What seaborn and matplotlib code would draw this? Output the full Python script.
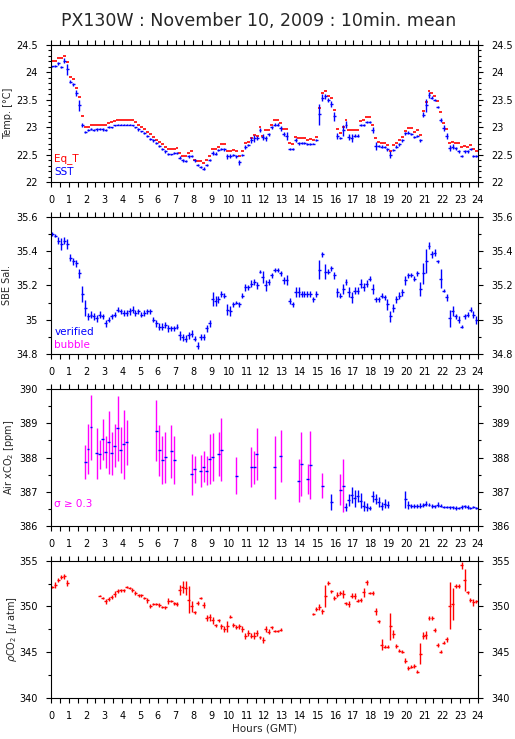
import numpy as np
import matplotlib
matplotlib.use("Agg")
import matplotlib.pyplot as plt
from matplotlib.ticker import MultipleLocator, FuncFormatter
import seaborn as sns

sns.set_theme(style="ticks")
plt.rcParams['font.family'] = ['DejaVu Sans']
plt.rcParams['mathtext.fontset'] = 'dejavusans'

# 10-minute means: slot centres in minutes after 00:00 GMT
slot_minutes = np.arange(5, 1440, 10)
hours = slot_minutes / 60

# Temperature panel (one row = one hour)
sst = [
    24.11, 24.11, 24.16, 24.10, 24.21, 24.05,
    23.83, 23.78, 23.62, 23.40, 23.04, 22.92,
    22.95, 22.97, 22.95, 22.96, 22.97, 22.96,
    22.95, 23.00, 23.00, 23.04, 23.05, 23.05,
    23.05, 23.05, 23.05, 23.04, 23.00, 22.96,
    22.93, 22.89, 22.84, 22.79, 22.76, 22.72,
    22.66, 22.61, 22.56, 22.51, 22.51, 22.53,
    22.53, 22.45, 22.40, 22.38, 22.47, 22.48,
    22.40, 22.31, 22.28, 22.25, 22.31, 22.40,
    22.53, 22.52, 22.59, 22.60, 22.60, 22.47,
    22.48, 22.50, 22.47, 22.36, 22.50, 22.64,
    22.68, 22.77, 22.80, 22.80, 22.95, 22.82,
    22.80, 22.87, 23.00, 23.05, 23.05, 22.98,
    22.88, 22.84, 22.60, 22.60, 22.77, 22.71,
    22.71, 22.71, 22.69, 22.70, 22.70, 22.77,
    23.24, 23.54, 23.56, 23.50, 23.42, 23.20,
    22.84, 22.80, 22.95, 23.05, 22.82, 22.80,
    22.85, 22.85, 23.04, 23.04, 23.10, 23.09,
    22.95, 22.66, 22.66, 22.65, 22.64, 22.60,
    22.50, 22.59, 22.65, 22.69, 22.76, 22.89,
    22.90, 22.88, 22.83, 22.84, 22.76, 23.23,
    23.40, 23.59, 23.54, 23.50, 23.37, 23.13,
    22.99, 22.84, 22.62, 22.65, 22.62, 22.56,
    22.48, 22.56, 22.56, 22.60, 22.48, 22.48,
]
sst_sd = [
    .01, .02, .02, .02, .04, .10,
    .02, .03, .05, .10, .04, .02,
    .02, .02, .02, .02, .02, .02,
    .02, .02, .01, .01, .01, .01,
    .01, .01, .01, .01, .01, .02,
    .01, .02, .02, .02, .02, .02,
    .02, .02, .02, .02, .01, .02,
    .02, .03, .03, .02, .02, .02,
    .03, .02, .02, .02, .02, .02,
    .03, .03, .02, .02, .03, .04,
    .03, .02, .02, .04, .02, .04,
    .02, .05, .06, .04, .04, .06,
    .05, .03, .03, .02, .02, .04,
    .04, .08, .02, .02, .04, .03,
    .02, .02, .02, .02, .01, .02,
    .19, .06, .04, .04, .05, .08,
    .06, .02, .10, .06, .06, .07,
    .03, .02, .02, .02, .02, .02,
    .05, .07, .02, .02, .02, .03,
    .06, .02, .02, .03, .02, .03,
    .03, .02, .02, .02, .02, .05,
    .12, .05, .03, .02, .02, .04,
    .06, .05, .06, .05, .03, .02,
    .02, .02, .02, .02, .02, .02,
]
eq_t = [
    24.20, 24.20, 24.25, 24.25, 24.29, 24.18,
    23.92, 23.88, 23.72, 23.55, 23.20, 23.01,
    23.01, 23.05, 23.04, 23.04, 23.05, 23.05,
    23.04, 23.07, 23.10, 23.12, 23.14, 23.14,
    23.14, 23.14, 23.14, 23.13, 23.10, 23.05,
    23.01, 22.97, 22.92, 22.87, 22.83, 22.77,
    22.73, 22.69, 22.65, 22.60, 22.60, 22.61,
    22.62, 22.53, 22.48, 22.47, 22.53, 22.56,
    22.40, 22.39, 22.38, 22.35, 22.40, 22.47,
    22.60, 22.60, 22.65, 22.69, 22.69, 22.56,
    22.56, 22.59, 22.56, 22.47, 22.56, 22.71,
    22.74, 22.80, 22.86, 22.84, 23.00, 22.84,
    22.95, 22.95, 23.05, 23.13, 23.13, 23.07,
    22.97, 22.97, 22.71, 22.70, 22.83, 22.81,
    22.80, 22.80, 22.77, 22.78, 22.77, 22.83,
    23.35, 23.62, 23.65, 23.57, 23.53, 23.31,
    22.96, 22.90, 23.00, 23.14, 22.95, 22.95,
    22.95, 22.95, 23.11, 23.13, 23.18, 23.18,
    23.05, 22.80, 22.74, 22.72, 22.72, 22.68,
    22.57, 22.68, 22.71, 22.76, 22.82, 22.93,
    22.98, 22.98, 22.92, 22.95, 22.86, 23.30,
    23.46, 23.66, 23.62, 23.57, 23.48, 23.27,
    23.08, 22.96, 22.71, 22.74, 22.71, 22.71,
    22.65, 22.66, 22.64, 22.68, 22.60, 22.57,
]

# Salinity panel
sal = [
    35.50, 35.49, 35.46, 35.44, 35.46, 35.44,
    35.36, 35.34, 35.33, 35.27, 35.15, 35.07,
    35.02, 35.03, 35.02, 35.01, 35.03, 35.02,
    34.98, 35.00, 35.02, 35.03, 35.06, 35.05,
    35.04, 35.04, 35.05, 35.06, 35.04, 35.05,
    35.03, 35.04, 35.05, 35.05, 35.00, 34.98,
    34.96, 34.96, 34.97, 34.95, 34.95, 34.95,
    34.96, 34.91, 34.90, 34.89, 34.91, 34.92,
    34.89, 34.85, 34.90, 34.90, 34.95, 34.98,
    35.12, 35.11, 35.12, 35.15, 35.14, 35.06,
    35.05, 35.09, 35.10, 35.09, 35.14, 35.19,
    35.19, 35.21, 35.22, 35.20, 35.28, 35.25,
    35.20, 35.22, 35.26, 35.29, 35.29, 35.27,
    35.23, 35.23, 35.11, 35.09, 35.16, 35.16,
    35.15, 35.15, 35.15, 35.15, 35.12, 35.15,
    35.29, 35.38, 35.28, 35.28, 35.30, 35.26,
    35.16, 35.14, 35.18, 35.22, 35.16, 35.13,
    35.17, 35.17, 35.21, 35.19, 35.21, 35.24,
    35.18, 35.12, 35.12, 35.14, 35.13, 35.09,
    35.02, 35.07, 35.12, 35.14, 35.16, 35.23,
    35.26, 35.26, 35.24, 35.27, 35.18, 35.27,
    35.34, 35.43, 35.38, 35.39, 35.34, 35.24,
    35.17, 35.13, 35.01, 35.05, 35.02, 35.00,
    34.96, 35.02, 35.03, 35.06, 35.03, 35.00,
]
sal_sd = [
    .010, .010, .020, .034, .020, .030,
    .020, .020, .020, .025, .045, .045,
    .020, .020, .020, .020, .020, .015,
    .020, .015, .015, .015, .015, .015,
    .015, .015, .020, .020, .015, .015,
    .015, .015, .015, .015, .015, .020,
    .020, .020, .020, .020, .015, .015,
    .015, .025, .020, .020, .020, .020,
    .015, .020, .015, .015, .020, .020,
    .040, .030, .020, .015, .015, .030,
    .030, .015, .010, .015, .015, .020,
    .015, .020, .020, .020, .010, .035,
    .030, .020, .015, .010, .010, .015,
    .020, .030, .015, .015, .030, .030,
    .015, .015, .015, .015, .015, .015,
    .055, .015, .045, .015, .015, .020,
    .025, .015, .030, .015, .030, .030,
    .020, .020, .025, .025, .020, .015,
    .030, .015, .015, .015, .015, .030,
    .030, .025, .020, .020, .020, .025,
    .015, .010, .015, .015, .040, .060,
    .070, .020, .020, .020, .010, .055,
    .010, .020, .050, .030, .015, .020,
    .010, .015, .015, .015, .020, .025,
]

# Air xCO2 panel
air_hours = [
    1.92, 2.08, 2.25, 2.58, 2.75, 2.92, 3.08, 3.25, 3.42, 3.58, 3.75, 3.92, 4.08, 4.25,
    5.92, 6.08, 6.25, 6.42, 6.75, 6.92, 7.92, 8.08, 8.42, 8.58, 8.75, 8.92, 9.08, 9.42,
    9.58, 10.42, 11.25, 11.42, 11.58, 12.58, 12.92, 13.92, 14.08, 14.42, 14.58, 15.25,
    15.75, 16.25, 16.42, 16.58, 16.75, 16.92, 17.08, 17.25, 17.42, 17.58, 17.75, 17.92,
    18.08, 18.25, 18.42, 18.58, 18.75, 18.92, 19.92, 20.08, 20.25, 20.42, 20.58, 20.75,
    20.92, 21.08, 21.25, 21.42, 21.58, 21.75, 21.92, 22.08, 22.25, 22.42, 22.58, 22.75,
    22.92, 23.08, 23.25, 23.42, 23.58, 23.75, 23.92,
]
air_xco2 = [
    387.87, 388.25, 388.89, 388.13, 388.10, 388.54, 388.16, 388.45, 388.13, 388.35,
    388.86, 388.21, 388.39, 388.45, 388.79, 388.21, 387.94, 388.01, 388.18, 387.92,
    387.52, 387.66, 387.62, 387.74, 387.62, 387.96, 388.01, 388.11, 388.23, 387.48,
    387.72, 387.72, 388.10, 387.72, 388.05, 387.33, 387.82, 387.37, 387.79, 387.18,
    386.71, 387.07, 387.18, 386.56, 386.77, 386.92, 386.82, 386.89, 386.75, 386.60,
    386.56, 386.53, 386.87, 386.79, 386.70, 386.60, 386.66, 386.63, 386.79, 386.63,
    386.58, 386.60, 386.58, 386.60, 386.63, 386.66, 386.63, 386.60, 386.58, 386.63,
    386.60, 386.56, 386.56, 386.55, 386.55, 386.53, 386.53, 386.55, 386.58, 386.56,
    386.53, 386.55, 386.53,
]
air_sd = [
    0.50, 0.73, 0.95, 0.74, 0.42, 0.60, 0.46, 0.92, 0.63, 0.63, 0.95, 0.67, 1.00, 0.66,
    0.90, 0.73, 0.70, 0.74, 0.77, 0.70, 0.60, 0.40, 0.47, 0.46, 0.42, 0.72, 0.70, 0.63,
    0.92, 0.55, 0.58, 0.48, 0.75, 0.92, 0.76, 0.63, 0.94, 0.44, 0.98, 0.36,
    0.23, 0.44, 0.77, 0.11, 0.18, 0.23, 0.25, 0.17, 0.22, 0.14, 0.11, 0.05,
    0.17, 0.15, 0.14, 0.12, 0.13, 0.11, 0.25, 0.12, 0.06, 0.06, 0.06, 0.07,
    0.06, 0.08, 0.05, 0.06, 0.04, 0.07, 0.05, 0.04, 0.03, 0.04, 0.04, 0.05,
    0.04, 0.06, 0.04, 0.05, 0.04, 0.03, 0.03,
]

# pCO2 panel
pco2_hours = [
    0.08, 0.25, 0.42, 0.58, 0.75, 0.92,
    2.75, 2.92, 3.08, 3.25, 3.42, 3.58, 3.75, 3.92, 4.08, 4.25, 4.42, 4.58, 4.75, 4.92,
    5.08, 5.25, 5.42, 5.58, 5.75, 5.92, 6.08, 6.25, 6.42, 6.58, 6.75, 6.92, 7.08, 7.25,
    7.42, 7.58, 7.75, 7.92, 8.08, 8.25, 8.42, 8.58, 8.75, 8.92, 9.08, 9.25, 9.42, 9.58,
    9.75, 9.92, 10.08, 10.25, 10.42, 10.58, 10.75, 10.92, 11.08, 11.25, 11.42, 11.58,
    11.75, 11.92, 12.08, 12.25, 12.42, 12.58, 12.75, 12.92,
    14.75, 14.92, 15.08, 15.25, 15.42, 15.58, 15.75, 15.92, 16.08, 16.25, 16.42, 16.58,
    16.75, 16.92, 17.08, 17.25, 17.42, 17.58, 17.75, 17.92, 18.08, 18.25, 18.42, 18.58,
    18.75, 18.92, 19.08, 19.25, 19.42, 19.58, 19.75, 19.92, 20.08, 20.25, 20.42, 20.58,
    20.75, 20.92, 21.08, 21.25, 21.42, 21.58, 21.75, 21.92, 22.08, 22.25, 22.42, 22.58,
    22.75, 22.92, 23.08, 23.25, 23.42, 23.58, 23.75, 23.92,
]
pco2 = [
    352.12, 352.37, 352.92, 353.20, 353.28, 352.55,
    351.17, 350.91, 350.55, 350.80, 351.02, 351.39, 351.68, 351.75, 351.75, 352.12,
    352.00, 351.82, 351.46, 351.20, 351.20, 350.91, 350.66, 350.07, 350.26, 350.26,
    350.18, 349.93, 349.89, 350.62, 350.55, 350.36, 350.29, 351.82, 352.12, 352.00,
    350.73, 350.00, 349.34, 350.36, 350.91, 350.18, 348.72, 348.80, 348.47, 347.92,
    348.47, 347.81, 347.52, 347.81, 348.90, 347.99, 347.74, 347.81, 347.52, 346.79,
    347.08, 346.82, 346.79, 347.08, 346.61, 346.35, 347.52, 347.26, 347.74, 347.34,
    347.34, 347.45,
    349.16, 349.71, 349.93, 349.45, 351.17, 352.55, 351.64, 350.91, 351.28, 351.46,
    351.39, 350.36, 350.29, 351.17, 351.17, 350.62, 350.73, 351.53, 352.63, 351.46,
    351.46, 349.45, 348.36, 345.80, 345.62, 345.62, 347.81, 347.00, 345.69, 345.18,
    345.07, 344.09, 343.25, 343.43, 343.50, 342.88, 344.82, 346.79, 346.90, 348.72,
    348.72, 347.45, 345.80, 345.07, 346.06, 346.42, 350.07, 350.26, 352.26, 352.26,
    354.50, 352.90, 351.53, 350.73, 350.44, 350.55,
]
pco2_sd = [
    0.10, 0.35, 0.20, 0.25, 0.30, 0.35,
    0.05, 0.15, 0.30, 0.20, 0.20, 0.35, 0.20, 0.20, 0.15, 0.15, 0.10, 0.20, 0.20, 0.15,
    0.20, 0.15, 0.25, 0.25, 0.15, 0.15, 0.20, 0.15, 0.15, 0.30, 0.10, 0.15, 0.25, 0.55,
    0.62, 0.73, 1.46, 0.60, 0.20, 0.25, 0.15, 0.30, 0.35, 0.35, 0.35, 0.20, 0.15, 0.25,
    0.30, 0.60, 0.20, 0.20, 0.20, 0.30, 0.35, 0.30, 0.35, 0.30, 0.40, 0.30,
    0.20, 0.30, 0.30, 0.30, 0.15, 0.10, 0.10, 0.15,
    0.10, 0.20, 0.30, 0.30, 1.20, 0.25, 0.20, 0.20, 0.30, 0.20, 0.45, 0.15,
    0.30, 0.30, 0.35, 0.15, 0.20, 0.50, 0.25, 0.15, 0.20, 0.40, 0.20, 0.60,
    0.20, 0.20, 1.46, 0.40, 0.20, 0.15, 0.20, 0.25, 0.20, 0.20, 0.25, 0.20,
    1.15, 0.40, 0.45, 0.25, 0.25, 0.20, 0.25, 0.20, 0.15, 0.25, 2.55, 1.77,
    0.20, 0.20, 0.40, 1.20, 0.15, 0.20, 0.40, 0.15,
]

half_slot = 5 / 60
BLUE, RED, MAGENTA = "#0000ff", "#ff0000", "#ff00ff"

fig = plt.figure(figsize=(5.15, 7.39), dpi=100)
boxes = [
    [0.099, 0.7533, 0.829, 0.1862],
    [0.099, 0.5206, 0.829, 0.1863],
    [0.099, 0.2878, 0.829, 0.1858],
    [0.099, 0.0555, 0.829, 0.1858],
]
axes = [fig.add_axes(b) for b in boxes]

fmt = FuncFormatter(lambda v, p: f"{round(v, 2):g}")


def style(ax, ylim, major, minor, label, label_x):
    ax.set_xlim(0, 24)
    ax.set_ylim(*ylim)
    ax.xaxis.set_major_locator(MultipleLocator(1))
    ax.xaxis.set_minor_locator(MultipleLocator(0.5))
    ax.yaxis.set_major_locator(MultipleLocator(major))
    ax.yaxis.set_minor_locator(MultipleLocator(minor))
    ax.yaxis.set_major_formatter(fmt)
    ax.tick_params(axis="both", which="both", direction="out", colors="black",
                   width=0.8, labelsize=7, top=True, right=True,
                   labelright=True, labelleft=True)
    ax.tick_params(axis="x", which="both", length=3.6, pad=5.5)
    ax.tick_params(axis="y", which="major", length=3.6, pad=6)
    ax.tick_params(axis="y", which="minor", length=2)
    for side in ax.spines.values():
        side.set_linewidth(0.8)
        side.set_color("black")
    ax.set_ylabel(label, fontsize=7)
    ax.yaxis.set_label_coords(label_x, 0.5)
    ax.grid(False)


lw = 1.0

# Temperature
ax = axes[0]
ax.errorbar(hours, eq_t, xerr=half_slot, fmt="none", ecolor=RED, elinewidth=1.2)
ax.errorbar(hours, sst, xerr=half_slot, yerr=sst_sd, fmt="none", ecolor=BLUE, elinewidth=lw)
style(ax, (22, 24.5), 0.5, 0.1, "Temp. [°C]", -0.088)
ax.text(0.008, 0.173, "Eq_T", color=RED, fontsize=7.5, va="center", transform=ax.transAxes)
ax.text(0.008, 0.075, "SST", color=BLUE, fontsize=7.5, va="center", transform=ax.transAxes)

# Salinity
ax = axes[1]
ax.errorbar(hours, sal, xerr=half_slot, yerr=sal_sd, fmt="none", ecolor=BLUE, elinewidth=lw)
style(ax, (34.8, 35.6), 0.2, 0.1, "SBE Sal.", -0.091)
ax.text(0.008, 0.162, "verified", color=BLUE, fontsize=7.5, va="center", transform=ax.transAxes)
ax.text(0.008, 0.068, "bubble", color=MAGENTA, fontsize=7.5, va="center", transform=ax.transAxes)

# Air xCO2
ax = axes[2]
ah = np.array(air_hours)
av = np.array(air_xco2)
asd = np.array(air_sd)
noisy = asd >= 0.3
ax.errorbar(ah[noisy], av[noisy], yerr=asd[noisy], fmt="none", ecolor=MAGENTA, elinewidth=lw)
ax.errorbar(ah[~noisy], av[~noisy], yerr=asd[~noisy], fmt="none", ecolor=BLUE, elinewidth=lw)
ax.errorbar(ah, av, xerr=half_slot, fmt="none", ecolor=BLUE, elinewidth=lw)
style(ax, (386, 390), 1, 0.5, "Air xCO$_2$ [ppm]", -0.082)
ax.text(0.006, 0.162, "σ ≥ 0.3", color=MAGENTA, fontsize=7.5, va="center", transform=ax.transAxes)

# pCO2
ax = axes[3]
ax.errorbar(pco2_hours, pco2, xerr=half_slot, yerr=pco2_sd, fmt="none", ecolor=RED, elinewidth=lw)
style(ax, (340, 355), 5, 2.5, r"$\rho$CO$_2$ [$\mu$ atm]", -0.076)
ax.set_xlabel("Hours (GMT)", fontsize=7.5, labelpad=2)

fig.suptitle("PX130W : November 10, 2009 : 10min. mean", fontsize=12.5, x=0.503, y=0.984)

fig.savefig("out.png", dpi=100)
